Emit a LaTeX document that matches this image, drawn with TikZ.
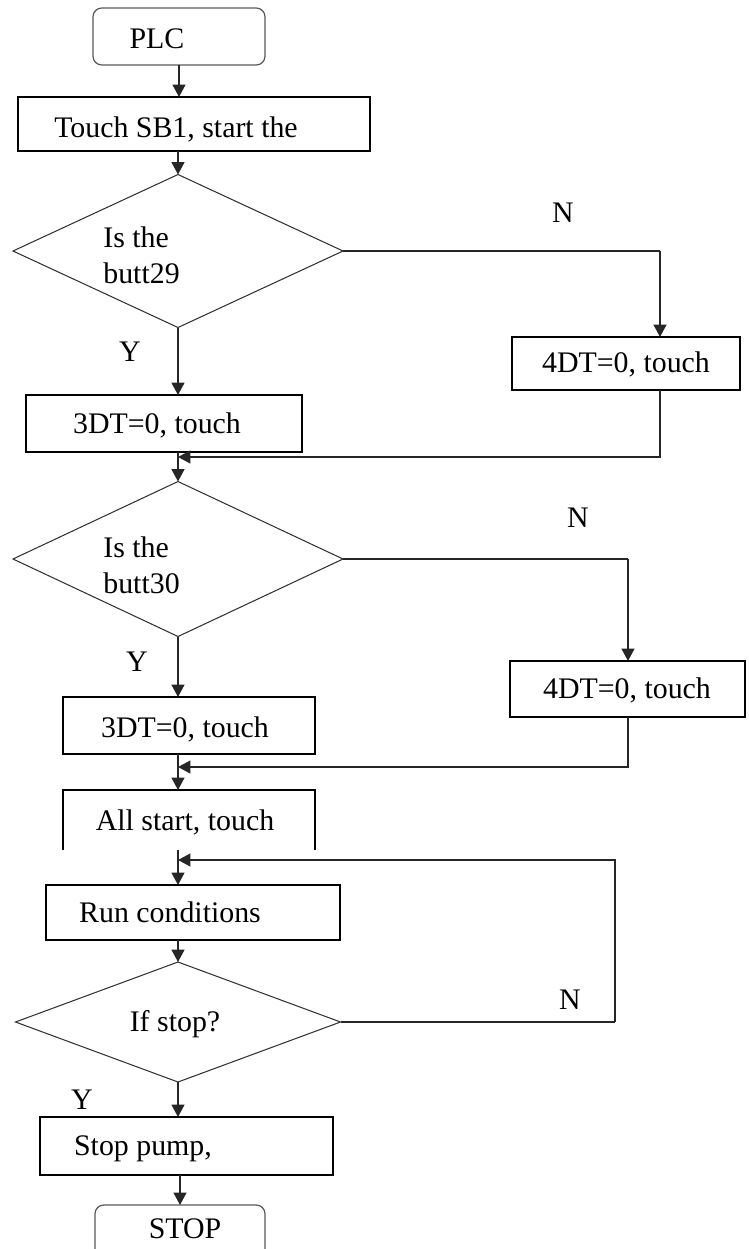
\documentclass[tikz,border=0pt]{standalone}
\usepackage{fontspec}
\setmainfont{Liberation Serif}
\usetikzlibrary{shapes.geometric,arrows.meta}

\tikzset{
    size/.style 2 args={minimum width=#1*0.02cm, minimum height=#2*0.02cm},
    box/.style={draw, line width=1pt, inner sep=0pt, outer sep=0pt},
    term/.style={draw=black!65, line width=0.7pt, rounded corners=5pt, inner sep=0pt, outer sep=0pt},
    cond/.style={draw=black!80, diamond, line width=0.6pt, inner sep=0pt, outer sep=0pt},
    txt/.style={inner sep=0pt, anchor=base},
    lbl/.style={inner sep=0pt},
    flow/.style={draw=black!85, line width=0.9pt, -{Triangle[length=2.5mm,width=2.6mm]}},
    wire/.style={draw=black!85, line width=0.9pt},
}

\begin{document}
\begin{tikzpicture}[x=0.02cm, y=-0.02cm, font=\fontsize{17}{20.5}\selectfont]
    \useasboundingbox (0,0) rectangle (749,1249);

    % start
    \node[term, size={172}{57}] (plc) at (179,36.5) {};
    \node[txt] (plc-t) at (157,48) {PLC};
    \node[box, size={352}{54}] (touch) at (194,124) {};
    \node[txt] (touch-t) at (176,137) {Touch SB1, start the};

    % first check
    \node[cond, size={330}{153}] (is1) at (178,251) {};
    \node[lbl, align=left, anchor=west] (is1-t) at (103,255) {Is the\\butt29};
    \node[box, size={276}{57}] (do3a) at (164,423.5) {};
    \node[txt] (do3a-t) at (157,433) {3DT=0, touch};
    \node[box, size={228}{53}] (do4a) at (626,363.5) {};
    \node[txt] (do4a-t) at (626,372) {4DT=0, touch};
    \node[lbl] (n1) at (563,213) {N};
    \node[lbl] (y1) at (130,352) {Y};
    \coordinate (r1) at (660,251);
    \coordinate (j1) at (178,457);

    % second check
    \node[cond, size={330}{155}] (is2) at (178,559) {};
    \node[lbl, align=left, anchor=west] (is2-t) at (103,565) {Is the\\butt30};
    \node[box, size={252}{57}] (do3b) at (189,725.5) {};
    \node[txt] (do3b-t) at (185,737) {3DT=0, touch};
    \node[box, size={235}{56}] (do4b) at (627.5,689) {};
    \node[txt] (do4b-t) at (627,698) {4DT=0, touch};
    \node[lbl] (n2) at (578,518) {N};
    \node[lbl] (y2) at (137,662) {Y};
    \coordinate (r2) at (628,559);
    \coordinate (j2) at (178,767);

    % run loop
    \node[size={252}{60}, inner sep=0pt, outer sep=0pt] (allst) at (189,820) {};
    \node[txt] (allst-t) at (185,830) {All start, touch};
    \node[box, size={294}{55}] (run) at (193,912.5) {};
    \node[txt] (run-t) at (170,922) {Run conditions};
    \node[cond, size={325}{120}] (ifstop) at (178,1022) {};
    \node[txt] (ifstop-t) at (175,1031) {If stop?};
    \node[lbl] (n3) at (570,1000) {N};
    \node[lbl] (y3) at (82,1100) {Y};
    \coordinate (r3) at (615,1022);
    \coordinate (j3) at (178,860);

    % end
    \node[box, size={293}{58}] (stp) at (186.5,1146) {};
    \node[txt] (stp-t) at (143,1155) {Stop pump,};
    \node[term, size={170}{57}] (stopend) at (180,1233.5) {};
    \node[txt] (stopend-t) at (185,1238) {STOP};

    \draw[box] (allst.south west) -- (allst.north west) -- (allst.north east) -- (allst.south east);

    % connectors
    \draw[flow] (plc.south) -- (plc.south |- touch.north);
    \draw[flow] (touch.south -| is1.north) -- (is1.north);
    \draw[flow] (is1.south) -- (is1.south |- do3a.north);
    \draw[wire] (is1.east) -- (r1);
    \draw[flow] (r1) -- (r1 |- do4a.north);
    \draw[flow] (r1 |- do4a.south) |- (j1);
    \draw[flow] (do3a.south -| is2.north) -- (is2.north);

    \draw[flow] (is2.south) -- (is2.south |- do3b.north);
    \draw[wire] (is2.east) -- (r2);
    \draw[flow] (r2) -- (r2 |- do4b.north);
    \draw[flow] (r2 |- do4b.south) |- (j2);
    \draw[flow] (do3b.south -| is2.south) -- (allst.north -| is2.south);

    \draw[flow] (allst.south -| ifstop.north) -- (run.north -| ifstop.north);
    \draw[flow] (run.south -| ifstop.north) -- (ifstop.north);
    \draw[wire] (ifstop.east) -- (r3);
    \draw[flow] (r3) |- (j3);
    \draw[flow] (ifstop.south) -- (ifstop.south |- stp.north);
    \draw[flow] (stp.south -| stopend.north) -- (stopend.north);
\end{tikzpicture}
\end{document}
